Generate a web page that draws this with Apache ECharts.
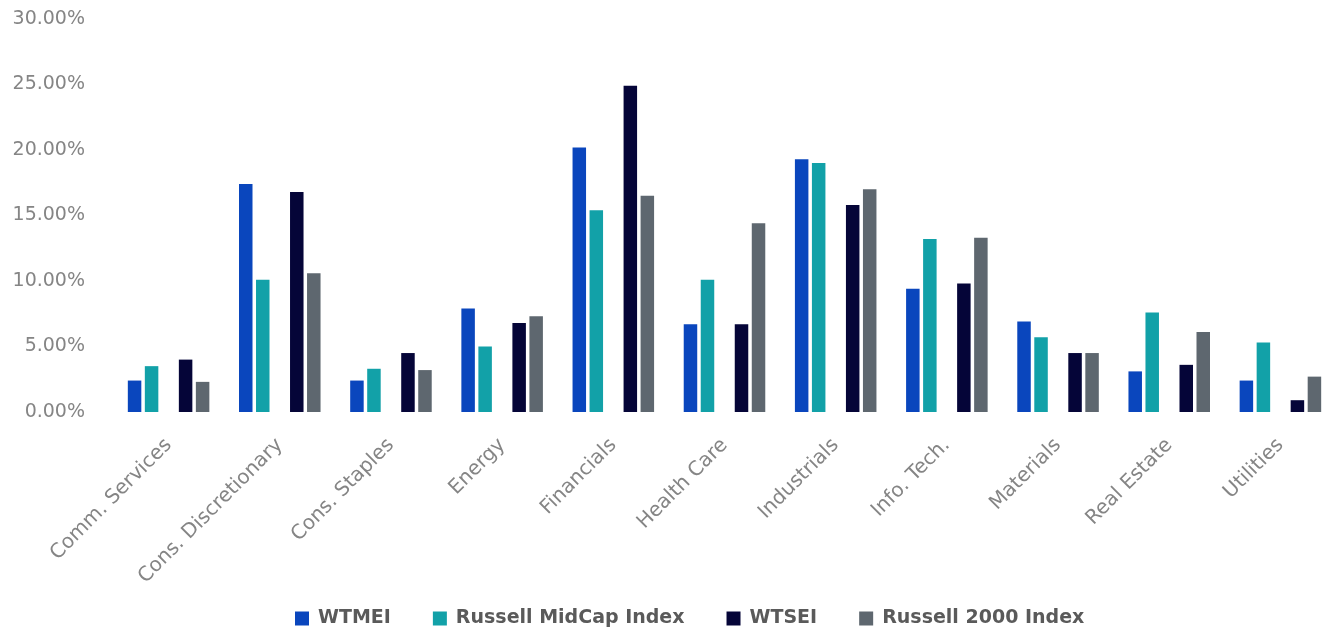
<!DOCTYPE html>
<html lang="en">

<head>
  <meta charset="utf-8">
  <title>Sector weights</title>
  <script src="https://cdn.jsdelivr.net/npm/echarts@6/dist/echarts.min.js"></script>
  <style>
    html, body {
      margin: 0;
      padding: 0;
      background: #fff;
    }

    #main {
      width: 1336px;
      height: 634px;
    }
  </style>
</head>

<body>
  <div id="main"></div>

  <script>
    // sectors on the x axis
    var sectors = ['Comm. Services', 'Cons. Discretionary', 'Cons. Staples', 'Energy', 'Financials',
      'Health Care', 'Industrials', 'Info. Tech.', 'Materials', 'Real Estate', 'Utilities'];

    // weights in percent
    var wtmei = [2.4, 17.4, 2.4, 7.9, 20.2, 6.7, 19.3, 9.4, 6.9, 3.1, 2.4];
    var midcap = [3.5, 10.1, 3.3, 5.0, 15.4, 10.1, 19.0, 13.2, 5.7, 7.6, 5.3];
    var wtsei = [4.0, 16.8, 4.5, 6.8, 24.9, 6.7, 15.8, 9.8, 4.5, 3.6, 0.9];
    var russell2000 = [2.3, 10.6, 3.2, 7.3, 16.5, 14.4, 17.0, 13.3, 4.5, 6.1, 2.7];

    // empty slot between the two pairs in each group
    var spacer = sectors.map(function() { return null; });

    var seriesNames = ['WTMEI', 'Russell MidCap Index', 'WTSEI', 'Russell 2000 Index'];
    var colors = ['#0a46bd', '#12a1a8', '#050538', '#5e676f'];

    var myChart = echarts.init(document.getElementById('main'));

    function bar(name, data, color) {
      return {
        name: name,
        type: 'bar',
        data: data,
        barWidth: 13.5,
        barGap: '26%',
        itemStyle: { color: color }
      };
    }

    var option = {
      animation: false,
      textStyle: {
        fontFamily: 'DejaVu Sans'
      },
      grid: {
        left: 113,
        right: -5,
        top: 19,
        bottom: 222
      },
      legend: {
        data: seriesNames,
        left: 290,
        top: 604,
        itemWidth: 14,
        itemHeight: 14,
        itemGap: 42,
        icon: 'rect',
        textStyle: {
          fontSize: 19,
          fontWeight: 'bold',
          color: '#5a5a5a',
          padding: [0, 0, 0, 4]
        }
      },
      xAxis: {
        type: 'category',
        data: sectors,
        axisLine: { show: false },
        axisTick: { show: false },
        axisLabel: {
          rotate: 45,
          margin: 30,
          interval: 0,
          fontSize: 20,
          color: '#858585'
        }
      },
      yAxis: {
        type: 'value',
        min: 0,
        max: 30,
        interval: 5,
        splitLine: { show: false },
        axisLine: { show: false },
        axisTick: { show: false },
        axisLabel: {
          margin: 28,
          fontSize: 19,
          color: '#858585',
          formatter: function(value) {
            return value.toFixed(2) + '%';
          }
        }
      },
      series: [
        bar(seriesNames[0], wtmei, colors[0]),
        bar(seriesNames[1], midcap, colors[1]),
        bar('', spacer, 'transparent'),
        bar(seriesNames[2], wtsei, colors[2]),
        bar(seriesNames[3], russell2000, colors[3])
      ]
    };

    myChart.setOption(option);
  </script>
</body>

</html>
